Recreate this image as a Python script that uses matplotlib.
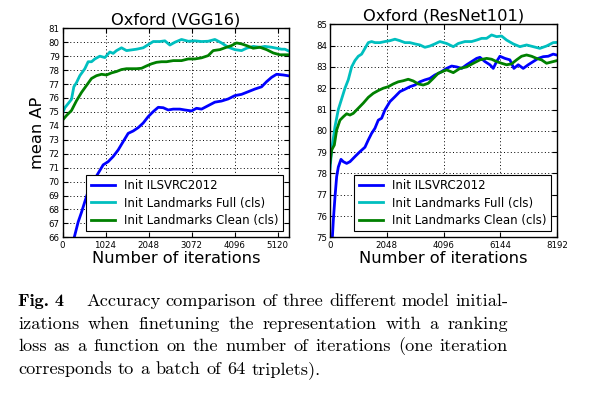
import numpy as np
import matplotlib
matplotlib.use("Agg")
import matplotlib.pyplot as plt

plt.rcParams["xtick.direction"] = "in"
plt.rcParams["ytick.direction"] = "in"
plt.rcParams["xtick.top"] = True
plt.rcParams["ytick.right"] = True
plt.rcParams["xtick.major.size"] = 3.5
plt.rcParams["ytick.major.size"] = 3.5
plt.rcParams["xtick.major.pad"] = 2.5
plt.rcParams["ytick.major.pad"] = 2
plt.rcParams["axes.linewidth"] = 1.0

# ---- data ----
series_labels = ["Init ILSVRC2012", "Init Landmarks Full (cls)", "Init Landmarks Clean (cls)"]
series_colors = ["#0000ff", "#00bfbf", "#008000"]

# Oxford (VGG16)
vgg_ilsvrc_x = [150, 280, 373, 453, 532, 611, 730, 850, 969, 1088, 1207, 1326, 1445, 1564, 1683,
                1802, 1921, 2040, 2160, 2279, 2398, 2517, 2636, 2794, 2913, 3072, 3191, 3310, 3469,
                3628, 3787, 3945, 4104, 4263, 4422, 4581, 4740, 4859, 4978, 5097, 5256, 5400]
vgg_ilsvrc_y = [64.0, 66.0, 67.1, 67.8, 68.56, 69.3, 70.0, 70.6, 71.2, 71.43, 71.8, 72.27, 72.87,
                73.46, 73.63, 73.87, 74.2, 74.66, 75.02, 75.33, 75.3, 75.14, 75.2, 75.2, 75.14,
                75.07, 75.26, 75.2, 75.45, 75.7, 75.78, 75.93, 76.17, 76.26, 76.45, 76.64, 76.8,
                77.17, 77.48, 77.7, 77.65, 77.58]
vgg_full_x = [0, 56, 135, 214, 270, 333, 413, 532, 611, 691, 770, 889, 1008, 1127, 1207, 1286,
              1405, 1524, 1643, 1762, 1921, 2080, 2160, 2318, 2437, 2557, 2676, 2834, 2993, 3151,
              3310, 3469, 3628, 3787, 3945, 4104, 4263, 4382, 4541, 4700, 4819, 4978, 5097, 5216,
              5295, 5400]
vgg_full_y = [74.9, 75.3, 75.6, 75.9, 76.8, 77.1, 77.6, 78.1, 78.6, 78.6, 78.8, 79.0, 78.9, 79.3,
              79.2, 79.4, 79.6, 79.4, 79.45, 79.5, 79.6, 79.9, 80.05, 80.05, 80.1, 79.8, 80.0,
              80.2, 80.07, 80.1, 80.05, 80.07, 80.2, 79.95, 79.64, 79.47, 79.4, 79.57, 79.7,
              79.64, 79.7, 79.64, 79.57, 79.5, 79.5, 79.35]
vgg_clean_x = [0, 95, 214, 333, 453, 572, 691, 810, 929, 1048, 1167, 1286, 1405, 1524, 1643, 1762,
               1882, 2001, 2120, 2239, 2358, 2477, 2636, 2834, 2993, 3151, 3310, 3469, 3588, 3747,
               3906, 4025, 4144, 4263, 4382, 4541, 4700, 4859, 5018, 5177, 5400]
vgg_clean_y = [74.4, 74.74, 75.1, 75.8, 76.4, 76.9, 77.4, 77.6, 77.7, 77.65, 77.8, 77.9, 78.04,
               78.1, 78.1, 78.1, 78.13, 78.3, 78.45, 78.56, 78.6, 78.6, 78.68, 78.68, 78.8, 78.8,
               78.88, 79.04, 79.4, 79.47, 79.64, 79.76, 79.95, 79.88, 79.76, 79.57, 79.64, 79.47,
               79.23, 79.1, 79.1]

# Oxford (ResNet101)
res_ilsvrc_x = [0, 120, 180, 240, 300, 396, 480, 600, 720, 900, 1080, 1260, 1380, 1500, 1620, 1740,
                1860, 1980, 2160, 2340, 2520, 2700, 2880, 3060, 3240, 3420, 3600, 3780, 3960, 4204,
                4384, 4564, 4744, 4924, 5104, 5284, 5404, 5584, 5764, 5884, 6004, 6124, 6304, 6484,
                6628, 6784, 6964, 7144, 7324, 7504, 7684, 7864, 8044, 8192]
res_ilsvrc_y = [73.0, 75.8, 76.9, 77.85, 78.3, 78.66, 78.55, 78.47, 78.55, 78.79, 79.02, 79.23,
                79.57, 79.88, 80.12, 80.5, 80.59, 80.98, 81.37, 81.6, 81.84, 81.95, 82.07, 82.15,
                82.3, 82.39, 82.46, 82.62, 82.73, 82.93, 83.04, 83.0, 82.93, 83.1, 83.25, 83.4,
                83.45, 83.25, 83.1, 82.93, 83.25, 83.5, 83.4, 83.33, 82.93, 83.1, 82.93, 83.1,
                83.25, 83.4, 83.48, 83.5, 83.6, 83.55]
res_full_x = [0, 60, 180, 300, 420, 540, 660, 780, 900, 1020, 1140, 1260, 1380, 1500, 1620, 1800,
              1980, 2160, 2340, 2520, 2700, 2880, 3060, 3240, 3420, 3600, 3780, 3960, 4204, 4444,
              4624, 4864, 5104, 5284, 5464, 5644, 5824, 6004, 6184, 6364, 6604, 6844, 7084, 7324,
              7564, 7804, 8044, 8192]
res_full_y = [78.2, 79.1, 80.2, 81.0, 81.5, 82.0, 82.4, 83.0, 83.3, 83.5, 83.6, 83.87, 84.14,
              84.19, 84.14, 84.14, 84.19, 84.23, 84.3, 84.23, 84.14, 84.14, 84.08, 84.03, 83.92,
              83.98, 84.08, 84.19, 84.1, 83.95, 84.1, 84.19, 84.19, 84.26, 84.34, 84.34, 84.5,
              84.42, 84.45, 84.26, 84.08, 83.95, 84.03, 83.95, 83.87, 83.98, 84.14, 84.15]
res_clean_x = [0, 60, 156, 240, 360, 480, 600, 720, 840, 1020, 1200, 1380, 1560, 1740, 1920, 2100,
               2280, 2460, 2640, 2820, 3000, 3180, 3360, 3540, 3720, 3900, 4204, 4444, 4684, 4924,
               5164, 5404, 5644, 5824, 6004, 6184, 6364, 6544, 6724, 6904, 7084, 7264, 7444, 7624,
               7804, 8044, 8192]
res_clean_y = [78.5, 79.1, 79.33, 80.04, 80.5, 80.66, 80.8, 80.74, 80.82, 81.06, 81.3, 81.57,
               81.76, 81.89, 82.0, 82.07, 82.2, 82.3, 82.35, 82.42, 82.34, 82.2, 82.15, 82.23,
               82.46, 82.7, 82.86, 82.73, 82.93, 83.0, 83.17, 83.33, 83.4, 83.36, 83.25, 83.17,
               83.1, 83.14, 83.33, 83.5, 83.56, 83.5, 83.4, 83.33, 83.17, 83.25, 83.3]

vgg_xticks = [0, 1024, 2048, 3072, 4096, 5120]
res_xticks = [0, 2048, 4096, 6144, 8192]

caption_head = "Fig. 4"
caption_lines = [
    "Accuracy comparison of three different model initial-",
    "izations when finetuning the representation with a ranking",
    "loss as a function on the number of iterations (one iteration",
    "corresponds to a batch of 64 triplets).",
]

# ---- figure ----
W, H = 592, 395
fig = plt.figure(figsize=(W / 100, H / 100), dpi=100)

ax1 = fig.add_axes([62.5 / W, 1 - 237.3 / H, 226.8 / W, 209 / H])
ax2 = fig.add_axes([330 / W, 1 - 237.3 / H, 227.3 / W, 213 / H])

panels = [
    (ax1, "Oxford (VGG16)",
     [(vgg_ilsvrc_x, vgg_ilsvrc_y), (vgg_full_x, vgg_full_y), (vgg_clean_x, vgg_clean_y)],
     (0, 5400), (66, 81), vgg_xticks),
    (ax2, "Oxford (ResNet101)",
     [(res_ilsvrc_x, res_ilsvrc_y), (res_full_x, res_full_y), (res_clean_x, res_clean_y)],
     (0, 8192), (75, 85), res_xticks),
]

for ax, title, data, xlim, ylim, xticks in panels:
    for (xs, ys), lab, col in zip(data, series_labels, series_colors):
        ax.plot(xs, ys, color=col, lw=2, label=lab)
    ax.set_xlim(*xlim)
    ax.set_ylim(*ylim)
    ax.set_xticks(xticks)
    ax.set_yticks(np.arange(ylim[0], ylim[1] + 1, 1))
    ax.tick_params(labelsize=6.2)
    ax.grid(True, color="k", linestyle=(0, (1, 2.5)), linewidth=0.7)
    ax.set_title(title, fontsize=11.7, pad=3)
    ax.set_xlabel("Number of iterations", fontsize=11.7, labelpad=1)
    leg = ax.legend(loc="lower right", fontsize=8.5, fancybox=False, framealpha=1,
                    edgecolor="k", handlelength=2.0, borderaxespad=0.5, labelspacing=0.35)
    leg.get_frame().set_linewidth(0.8)

ax1.set_ylabel("mean AP", fontsize=11.7, labelpad=3)

# ---- caption, justified like the paper ----
renderer = fig.canvas.get_renderer()
x_left, x_right = 18.0, 508.0
fsize = 13.2
base_y = [306, 328.7, 351.4, 374]


def put(x, y, s, family):
    return fig.text(x / W, 1 - y / H, s, fontsize=fsize, family=family, va="baseline", ha="left")


put(x_left, base_y[0], caption_head, "cmb10")
for i, line in enumerate(caption_lines):
    words = line.split(" ")
    start = 86.0 if i == 0 else x_left
    texts = [put(0, base_y[i], w, "cmr10") for w in words]
    widths = [t.get_window_extent(renderer).width for t in texts]
    if i < len(caption_lines) - 1:
        gap = (x_right - start - sum(widths)) / (len(words) - 1)
    else:
        gap = fsize * 100 / 72 * 0.333
    x = start
    for t, w in zip(texts, widths):
        t.set_x(x / W)
        x += w + gap

fig.savefig("out.png", dpi=100)
